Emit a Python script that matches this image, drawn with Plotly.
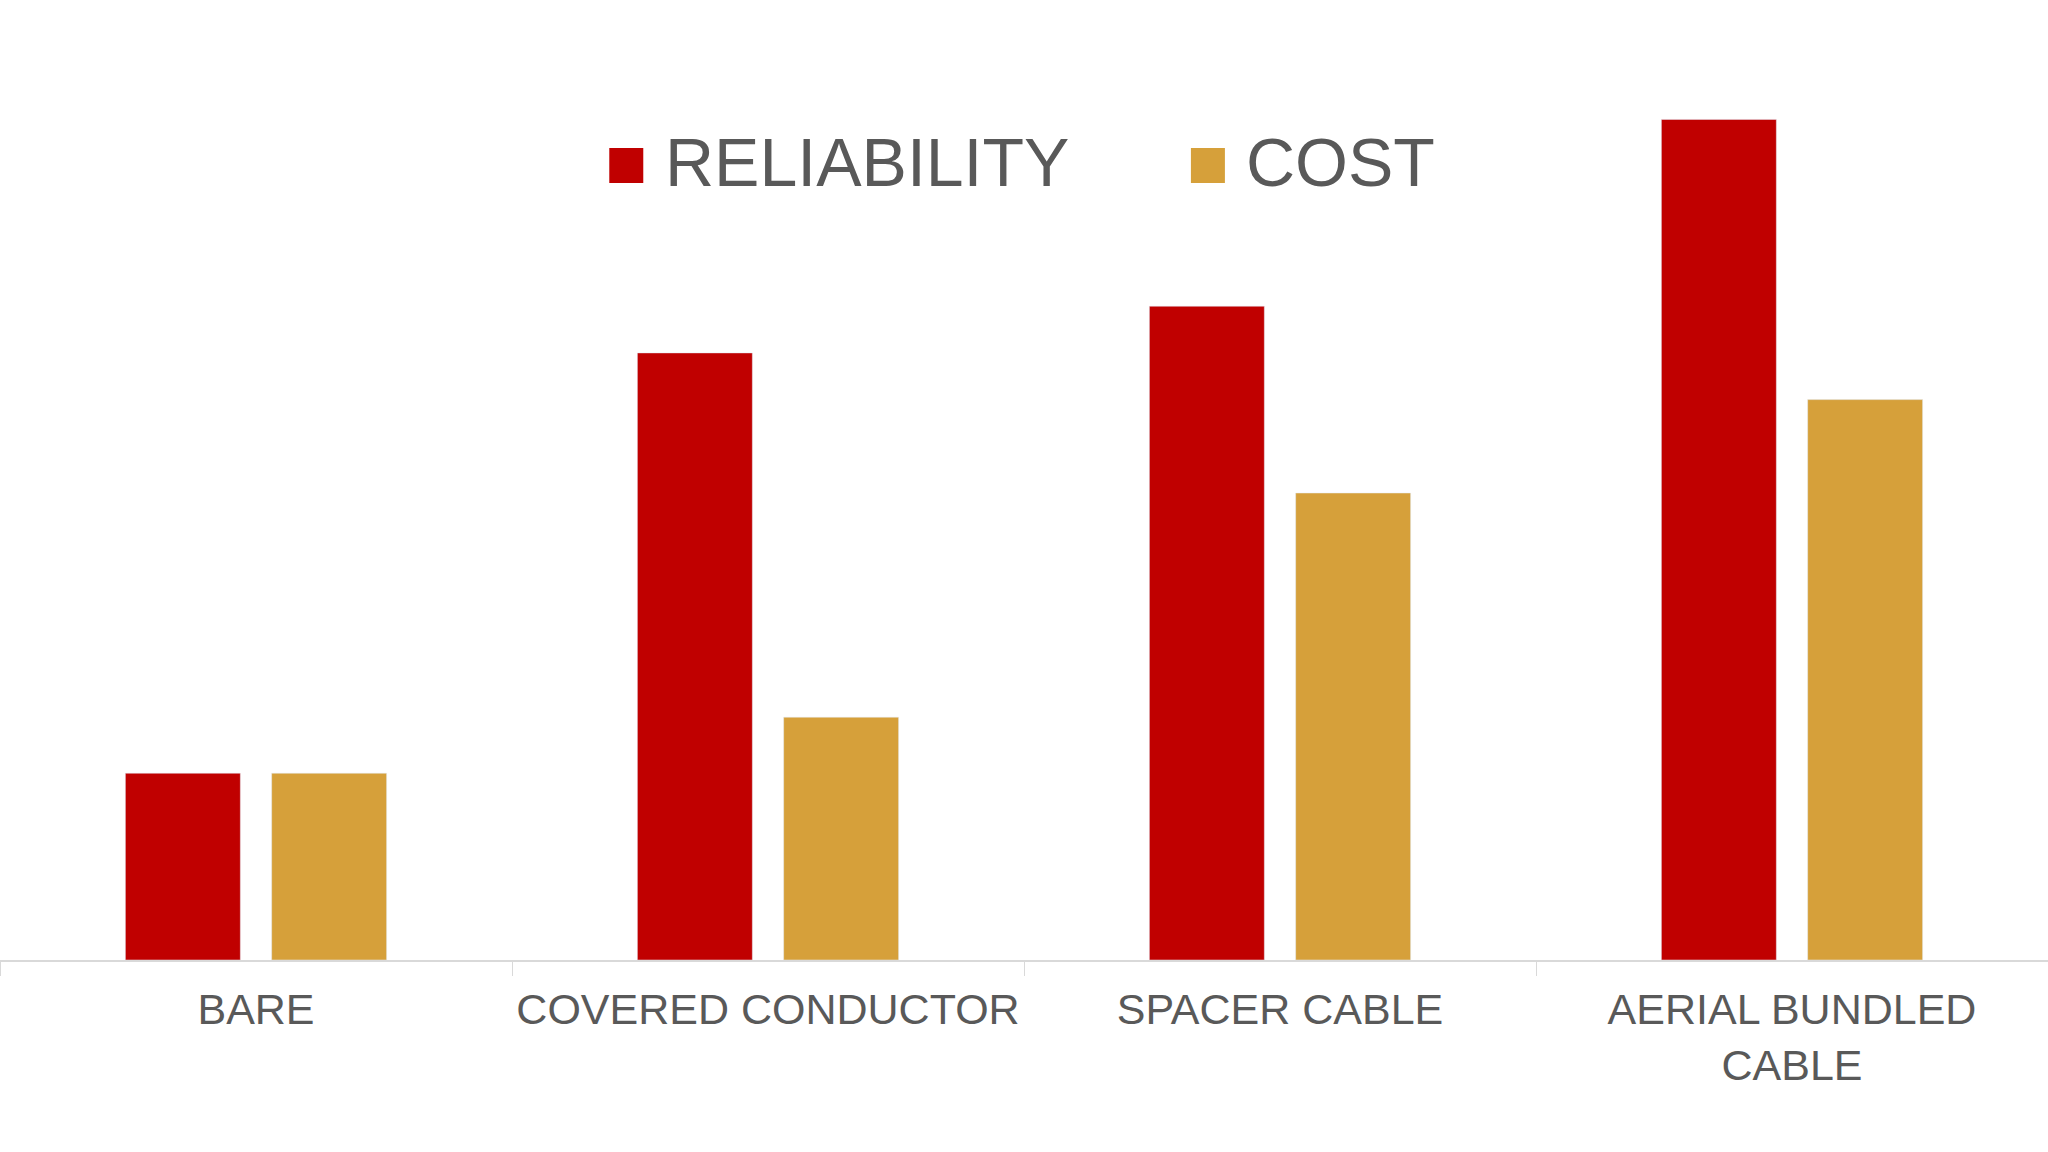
import plotly.graph_objects as go

# categories and series values
categories = ["BARE", "COVERED CONDUCTOR", "SPACER CABLE", "AERIAL BUNDLED<br>CABLE"]
reliability = [1.0, 3.25, 3.5, 4.5]
cost = [1.0, 1.3, 2.5, 3.0]

RED = "#C00000"
GOLD = "#D6A03A"
GREY = "#595959"
FONT = "Liberation Sans, Arial, sans-serif"

fig = go.Figure()
fig.add_trace(go.Bar(x=categories, y=reliability, name="RELIABILITY", marker_color=RED))
fig.add_trace(go.Bar(x=categories, y=cost, name="COST", marker_color=GOLD))

# legend drawn by hand so the swatches can be as big as in the original
legend_items = [("RELIABILITY", RED, 0.2975), ("COST", GOLD, 0.5815)]
for label, color, x0 in legend_items:
    fig.add_shape(type="rect", xref="paper", yref="paper",
                  x0=x0, x1=x0 + 0.0166, y0=1 - (183 - 26) / 934, y1=1 - (148 - 26) / 934,
                  fillcolor=color, line_width=0)
    fig.add_annotation(text=label, xref="paper", yref="paper",
                       x=x0 + 0.026, y=1 - (162 - 26) / 934,
                       xanchor="left", yanchor="middle", showarrow=False,
                       font=dict(size=68, color=GREY, family=FONT))

fig.update_layout(
    width=2048, height=1152,
    margin=dict(l=0, r=0, t=26, b=192),
    paper_bgcolor="white", plot_bgcolor="white",
    barmode="group", bargap=0.4286, bargroupgap=0.214,
    showlegend=False,
    font=dict(family=FONT, color=GREY),
)
fig.update_xaxes(
    showline=True, linecolor="#D9D9D9", linewidth=2,
    ticks="outside", tickson="boundaries", ticklen=14, tickcolor="#D9D9D9", tickwidth=1,
    tickfont=dict(size=43, color=GREY, family=FONT),
    tickangle=0, automargin=False, ticklabelstandoff=10,
    showgrid=False,
)
fig.update_yaxes(range=[0, 5], visible=False, showgrid=False, automargin=False)

fig.write_html("out.html", config={"displayModeBar": False},
               post_script="document.body.style.margin='0';")
